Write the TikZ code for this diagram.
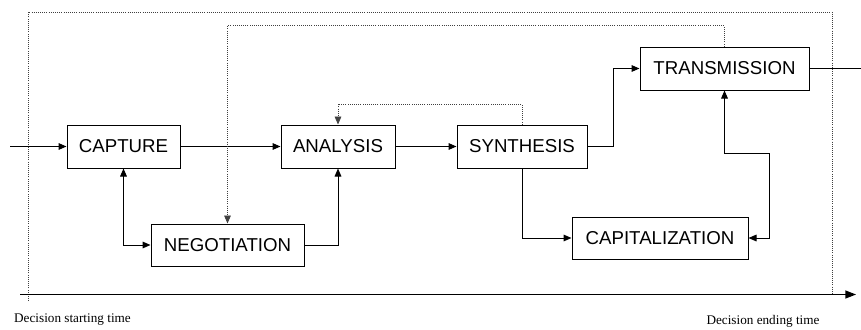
\documentclass[tikz,border=0pt]{standalone}
\usepackage{fontspec}
\setmainfont{Liberation Serif}
\newfontfamily\boxfont{Liberation Sans}
\usetikzlibrary{arrows.meta}
\tikzset{
  px/.style={x=0.75pt,y=-0.75pt},
  blk/.style 2 args={draw, line width=0.75pt, inner sep=0pt, font=\boxfont\fontsize{14}{16}\selectfont,
     minimum width=#1*0.75pt, minimum height=#2*0.75pt},
  arr/.style={line width=0.75pt, -{Triangle[length=6pt,width=5pt]}},
  darr/.style={line width=0.75pt, {Triangle[length=6pt,width=5pt]}-{Triangle[length=6pt,width=5pt]}},
  plain/.style={line width=0.75pt},
  dot/.style={line width=0.6pt, densely dotted, black!75},
  dotarr/.style={dot, -{Triangle[length=6pt,width=5pt]}},
  lbl/.style={font=\fontsize{9.9}{11}\selectfont, inner sep=0pt},
}
\begin{document}
\begin{tikzpicture}[px]
\useasboundingbox (0,0) rectangle (861,329);
% frame
\coordinate (fl) at (28,301);
\coordinate (ftl) at (28,12.3);
\coordinate (ftr) at (832.5,12.3);
\coordinate (fr) at (832.5,294);
\draw[dot] (fl) -- (ftl) -- (ftr) -- (fr);
% boxes
\node[blk={113}{43}] (cap) at (123.5,146.5) {CAPTURE};
\node[blk={114}{43}] (ana) at (338,146.5) {ANALYSIS};
\node[blk={153}{42}] (neg) at (227.5,245) {NEGOTIATION};
\node[blk={130}{43}] (syn) at (522,146.5) {SYNTHESIS};
\node[blk={176}{42}] (cpz) at (660,238) {CAPITALIZATION};
\node[blk={169}{43}] (tra) at (724.5,68.5) {TRANSMISSION};
% axis
\coordinate (ax0) at (20,294.5);
\coordinate (ax1) at (856,294.5);
\draw[line width=1pt, -{Triangle[length=8pt,width=6pt]}] (ax0) -- (ax1);
% labels
\node[lbl] (ls) at (72.5,320) {Decision starting time};
\node[lbl] (le) at (763,321) {Decision ending time};
% connectors
\coordinate (in) at (10,146.5);
\coordinate (out) at (861,68.5);
\draw[arr] (in) -- (cap.west);
\draw[arr] (cap.east) -- (ana.west);
\draw[arr] (ana.east) -- (syn.west);
\draw[plain] (tra.east) -- (out);
\coordinate (st1) at (613.7,146.5);
\draw[arr] (syn.east) -- (st1) |- (tra.west);
\draw[darr] (cap.south) |- (neg.west);
\draw[arr] (neg.east) -| (ana.south);
\draw[arr] (syn.south) |- (cpz.west);
\coordinate (tc1) at (769,153);
\draw[darr] (tra.south) |- (tc1) |- (cpz.east);
% dotted feedback
\coordinate (d1) at (724.5,25.7);
\draw[dotarr] (tra.north) -- (d1) -| (neg.north);
\coordinate (d2) at (522,104);
\draw[dotarr] (syn.north) -- (d2) -| (ana.north);
\end{tikzpicture}
\end{document}
